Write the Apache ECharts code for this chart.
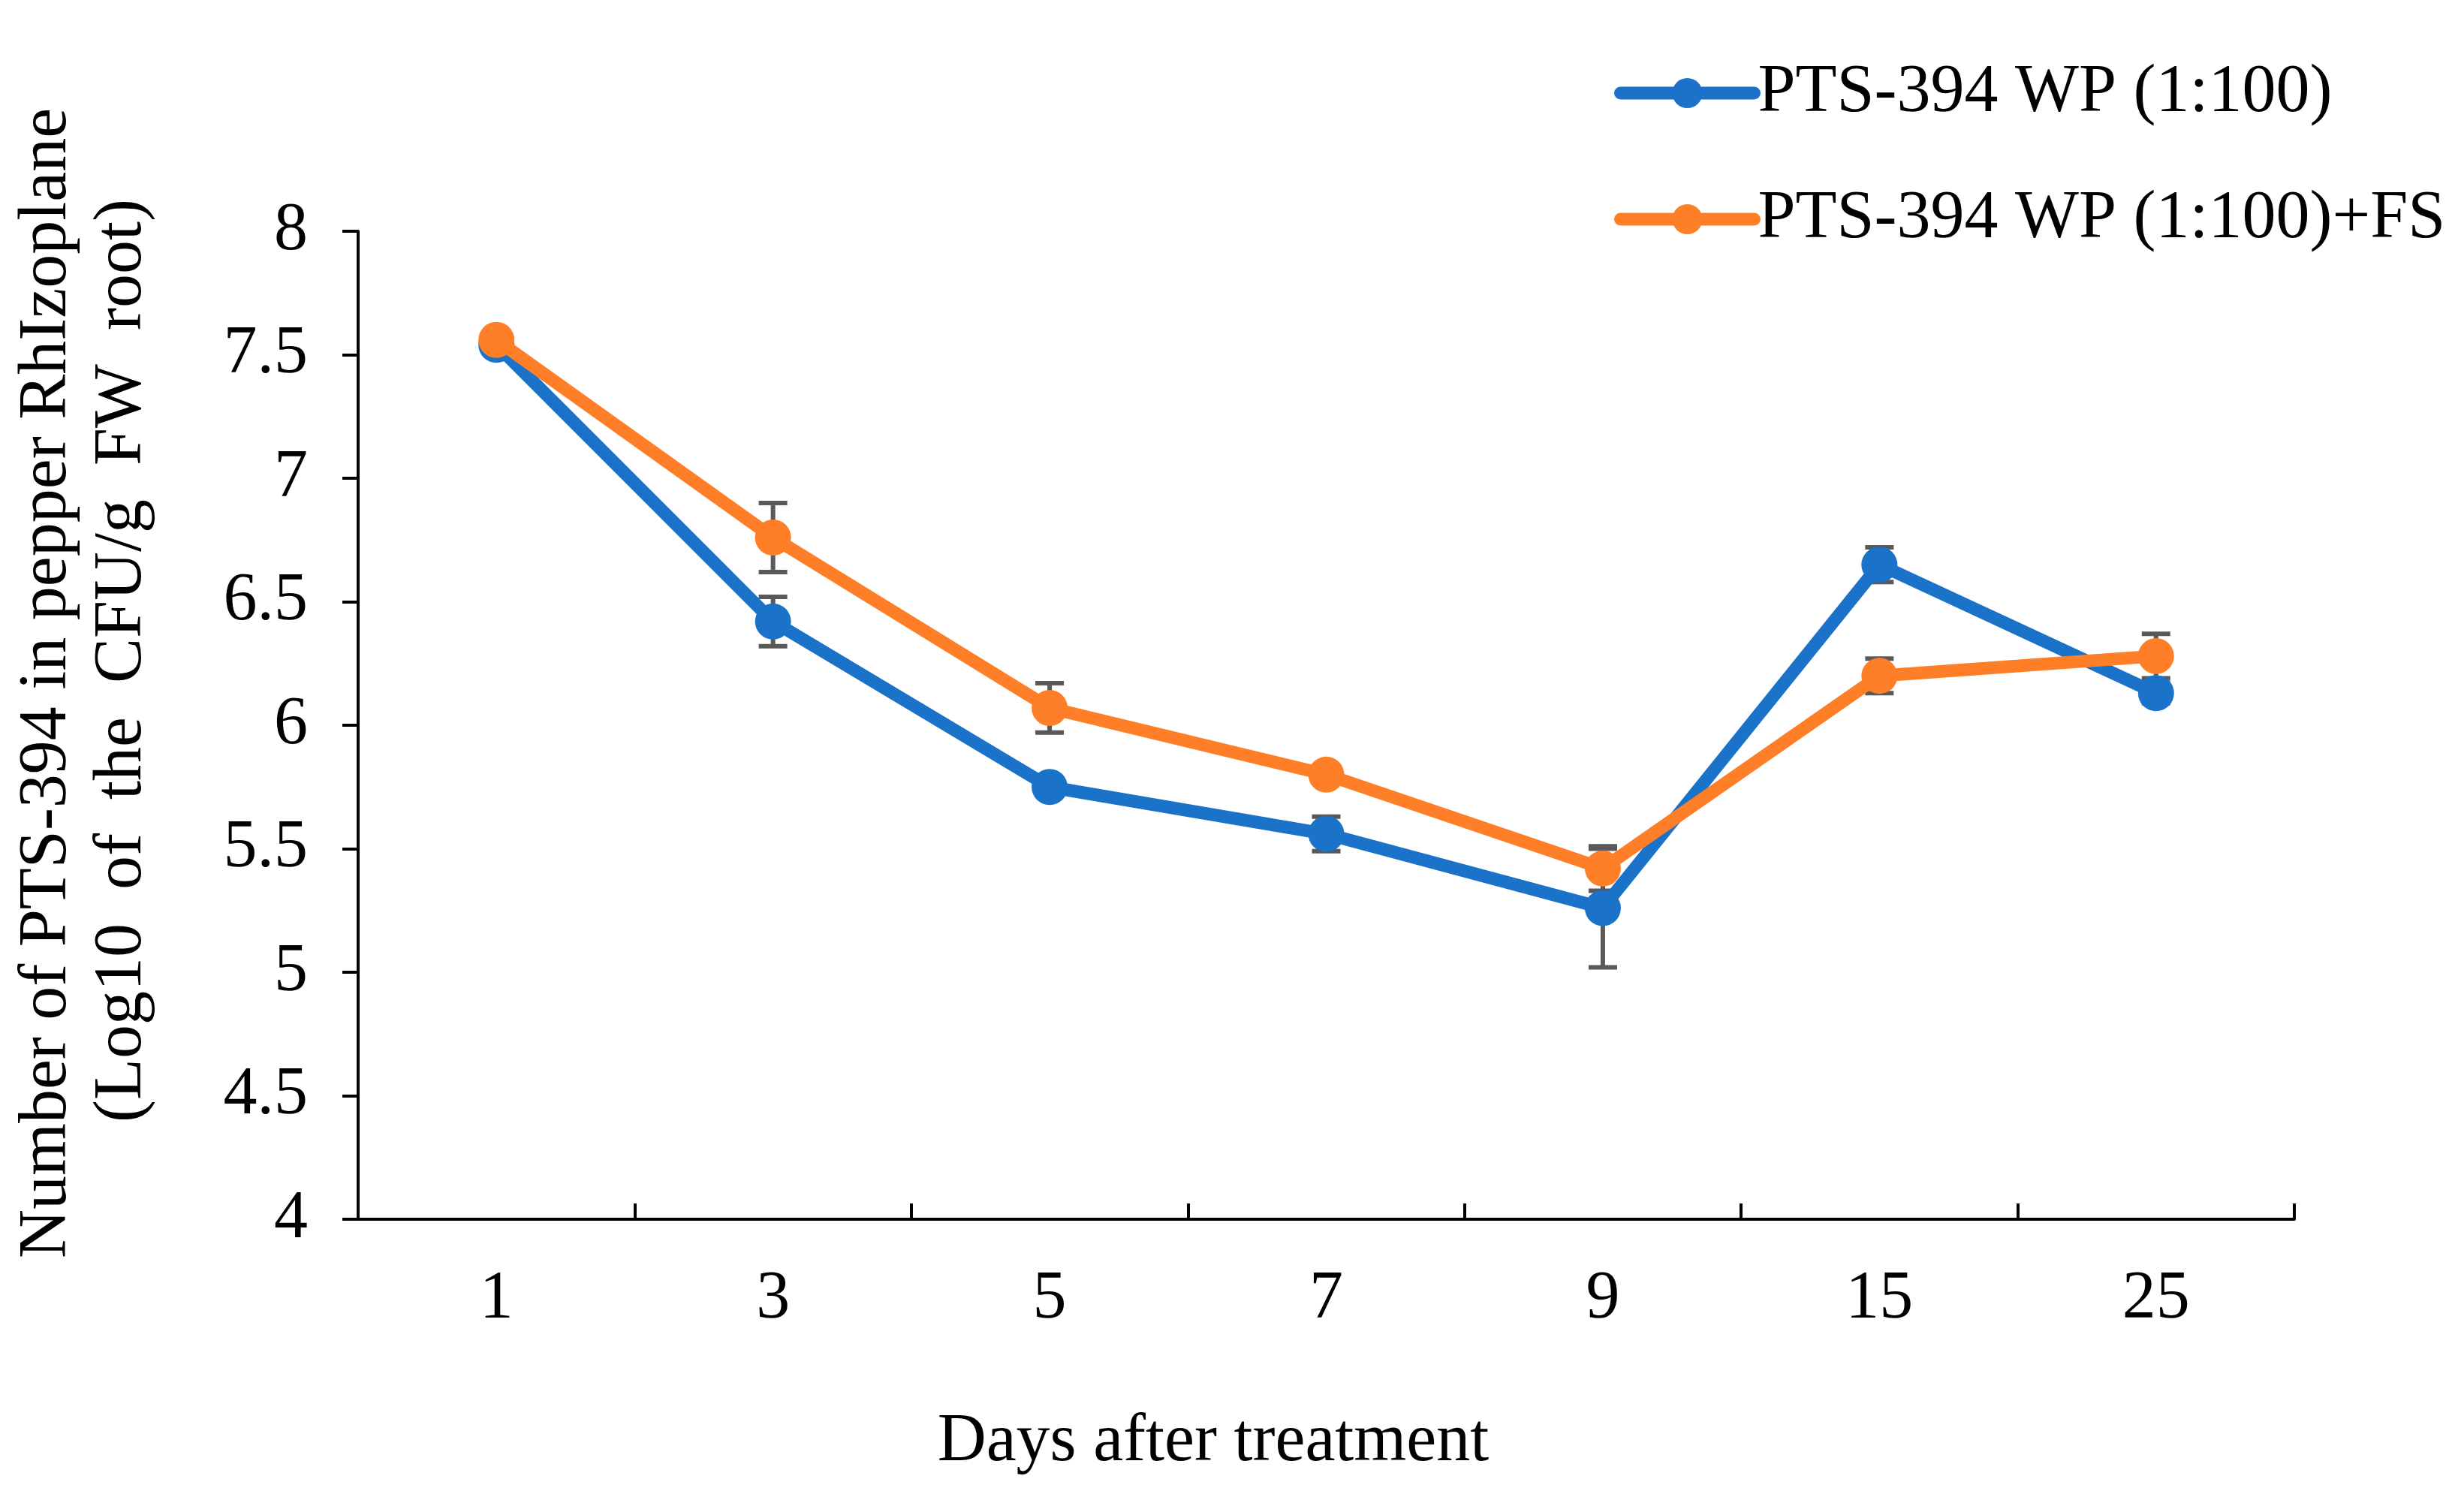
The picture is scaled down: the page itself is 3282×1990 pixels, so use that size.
<!DOCTYPE html>
<html>
<head>
<meta charset="utf-8">
<script src="https://cdn.jsdelivr.net/npm/echarts@6/dist/echarts.min.js"></script>
<style>
html,body{margin:0;padding:0;background:#fff;}
#chart{width:3282px;height:1990px;}
</style>
</head>
<body>
<div id="chart"></div>
<script>
var days = ['1', '3', '5', '7', '9', '15', '25'];
var seriesNames = ['PTS-394 WP (1:100)', 'PTS-394 WP (1:100)+FS'];
var wpValues = [7.54, 6.42, 5.75, 5.56, 5.26, 6.65, 6.13];
var wpErrors = [0.02, 0.10, 0.02, 0.07, 0.24, 0.07, 0.04];
var wpFsValues = [7.56, 6.76, 6.07, 5.80, 5.42, 6.20, 6.28];
var wpFsErrors = [0.02, 0.14, 0.10, 0.02, 0.09, 0.07, 0.09];
var yTicks = { min: 4, max: 8, interval: 0.5 };
var xTitle = 'Days after treatment';
var yTitle1 = 'Number of PTS-394 in pepper RhIzoplane';
var yTitle2 = '(Log10  of  the  CFU/g  FW  root)';

var blue = '#1A73C8';
var orange = '#FE7F27';
var errColor = '#595959';
var font = '"Liberation Serif", "Times New Roman", serif';

function errData(vals, errs) {
  return vals.map(function (v, i) { return [i, v - errs[i], v + errs[i]]; });
}

function renderErr(params, api) {
  var x = api.value(0);
  var lo = api.coord([x, api.value(1)]);
  var hi = api.coord([x, api.value(2)]);
  var hw = 19;
  var st = { stroke: errColor, lineWidth: 6, fill: null };
  return {
    type: 'group',
    children: [
      { type: 'line', shape: { x1: lo[0], y1: lo[1], x2: hi[0], y2: hi[1] }, style: st },
      { type: 'line', shape: { x1: lo[0] - hw, y1: lo[1], x2: lo[0] + hw, y2: lo[1] }, style: st },
      { type: 'line', shape: { x1: hi[0] - hw, y1: hi[1], x2: hi[0] + hw, y2: hi[1] }, style: st }
    ]
  };
}

var chart = echarts.init(document.getElementById('chart'));
chart.setOption({
  backgroundColor: '#fff',
  animation: false,
  textStyle: { fontFamily: font },
  grid: { left: 477, right: 226, top: 308, bottom: 366 },
  legend: {
    data: seriesNames,
    orient: 'vertical',
    left: 2145,
    top: 74,
    itemWidth: 178,
    itemHeight: 50,
    itemGap: 78,
    lineStyle: { width: 17, cap: 'round' },
    textStyle: { fontFamily: font, fontSize: 90, color: '#000', lineHeight: 90, padding: [0, 0, 0, 0] }
  },
  xAxis: {
    type: 'category',
    data: days,
    boundaryGap: true,
    axisLine: { lineStyle: { color: '#000', width: 4 } },
    axisTick: { show: true, interval: 0, inside: true, length: 21, lineStyle: { color: '#000', width: 4 } },
    axisLabel: { fontFamily: font, fontSize: 90, color: '#000', margin: 62 },
    splitLine: { show: false }
  },
  yAxis: {
    type: 'value',
    min: yTicks.min,
    max: yTicks.max,
    interval: yTicks.interval,
    axisLine: { show: true, lineStyle: { color: '#000', width: 4 } },
    axisTick: { show: true, length: 21, lineStyle: { color: '#000', width: 4 } },
    axisLabel: { fontFamily: font, fontSize: 90, color: '#000', margin: 67 },
    splitLine: { show: false }
  },
  graphic: [
    { type: 'text', x: 63, y: 910, rotation: Math.PI / 2,
      style: { text: yTitle1, font: '90px ' + font, fill: '#000', align: 'center', verticalAlign: 'middle' } },
    { type: 'text', x: 163, y: 880, rotation: Math.PI / 2,
      style: { text: yTitle2, font: '90px ' + font, fill: '#000', align: 'center', verticalAlign: 'middle' } },
    { type: 'text', x: 1616, y: 1921,
      style: { text: xTitle, font: '90px ' + font, fill: '#000', align: 'center', verticalAlign: 'middle' } }
  ],
  series: [
    { type: 'custom', name: 'errWP', renderItem: renderErr, data: errData(wpValues, wpErrors), z: 1, silent: true },
    { type: 'custom', name: 'errWPFS', renderItem: renderErr, data: errData(wpFsValues, wpFsErrors), z: 1, silent: true },
    {
      type: 'line', name: seriesNames[0], data: wpValues, z: 3,
      symbol: 'circle', symbolSize: 48,
      lineStyle: { color: blue, width: 17 },
      itemStyle: { color: blue }
    },
    {
      type: 'line', name: seriesNames[1], data: wpFsValues, z: 4,
      symbol: 'circle', symbolSize: 48,
      lineStyle: { color: orange, width: 17 },
      itemStyle: { color: orange }
    }
  ]
});
</script>
</body>
</html>
